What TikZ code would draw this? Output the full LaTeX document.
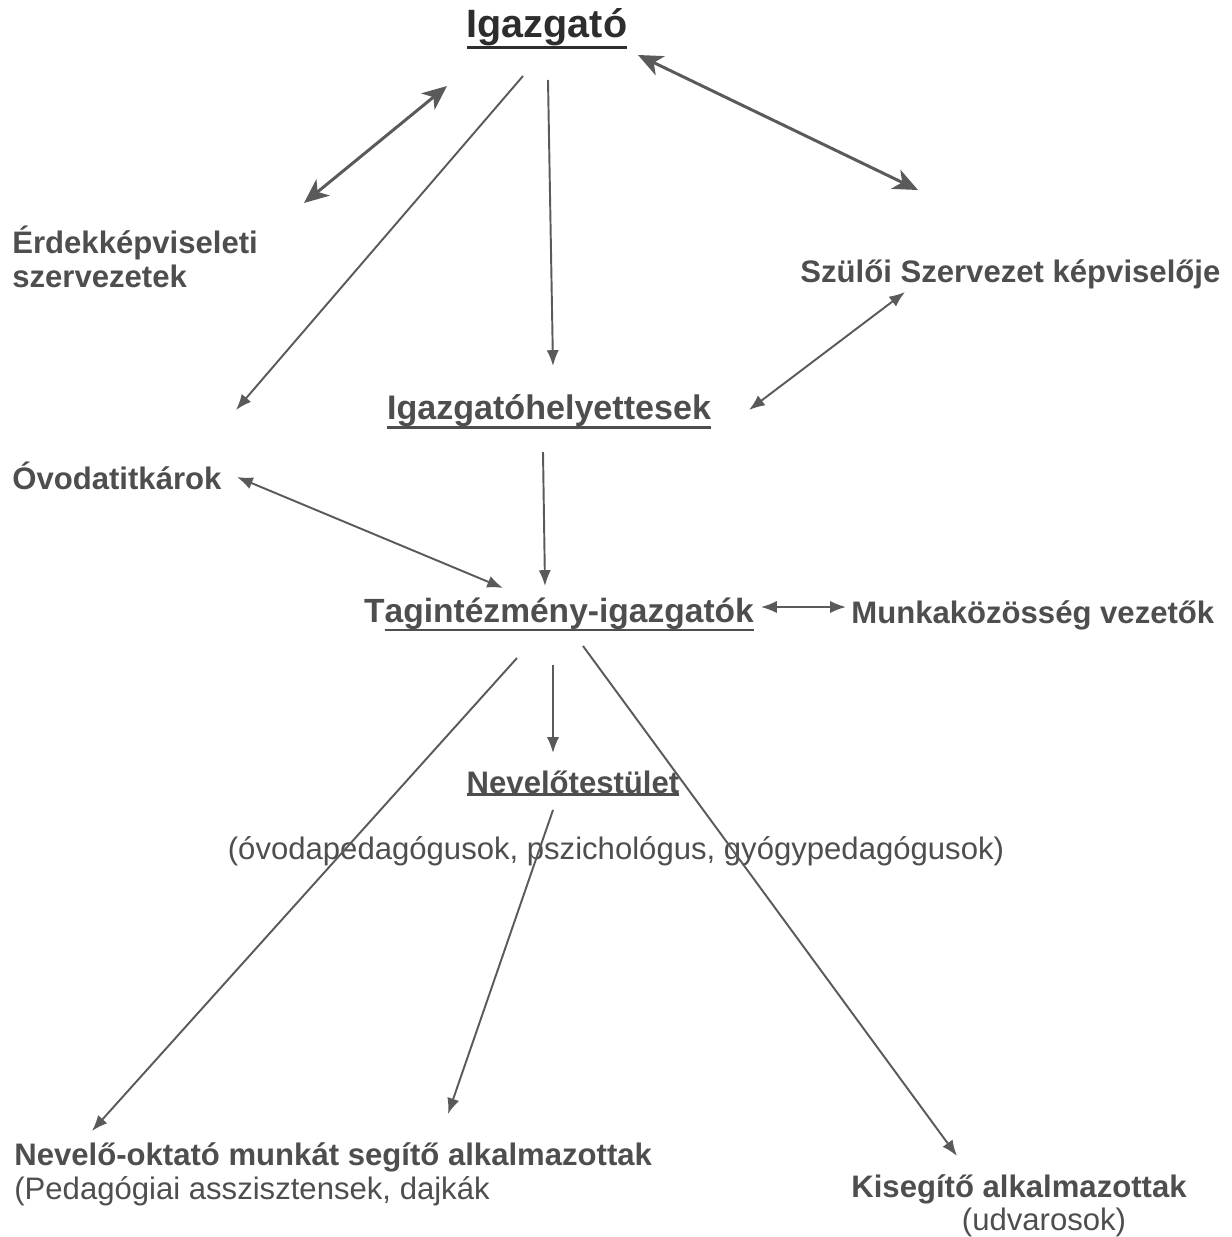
\documentclass[tikz,border=0pt]{standalone}
\usepackage{fontspec}
\setmainfont{Liberation Sans}
\usetikzlibrary{arrows.meta}
\definecolor{inkgray}{RGB}{78,78,78}
\definecolor{headgray}{RGB}{45,45,45}
\definecolor{linegray}{RGB}{90,90,90}
\newcommand\heavyul[1]{\setbox0=\hbox{#1}\rlap{\rule[-\dimexpr\dp0+1.3pt\relax]{\wd0}{1.5pt}}\box0}
\tikzset{
  lbl/.style={font=\fontsize{17.7}{19.3}\selectfont\bfseries, text=inkgray, inner sep=0pt},
  note/.style={font=\fontsize{17.7}{19.3}\selectfont, text=inkgray, inner sep=0pt},
  tip/.tip={Latex[length=9pt,width=7pt]},
  bigtip/.tip={Stealth[length=14pt,width=12pt,inset=4pt]},
  conn/.style={draw=linegray, line width=1.1pt, -tip},
  twoway/.style={draw=linegray, line width=1.1pt, tip-tip},
  heavy/.style={draw=linegray, line width=1.7pt, bigtip-bigtip}
}

\begin{document}
\begin{tikzpicture}[x=0.02cm, y=-0.02cm]
  \useasboundingbox (0,0) rectangle (1231,1237);

  % labels
  \node[lbl, text=headgray, font=\fontsize{22.5}{24}\selectfont\bfseries, anchor=base] (igazgato) at (547,38) {\heavyul{Igazgató}};
  \node[lbl, anchor=north west, align=left] (erdek) at (12,226) {Érdekképviseleti\\szervezetek};
  \node[lbl, anchor=base west] (szuloi) at (800,282) {Szülői Szervezet képviselője};
  \node[lbl, font=\fontsize{19.4}{21}\selectfont\bfseries, anchor=base] (helyettes) at (549,419) {\heavyul{Igazgatóhelyettesek}};
  \node[lbl, anchor=base west] (titkar) at (12,489) {Óvodatitkárok};
  \node[lbl, font=\fontsize{19.1}{21}\selectfont\bfseries, anchor=base] (tag) at (559,622) {T\heavyul{agintézmény-igazgatók}};
  \node[lbl, anchor=base west] (munka) at (851,623) {Munkaközösség vezetők};
  \node[lbl, anchor=base] (nevtest) at (573,793) {\heavyul{Nevelőtestület}};
  \node[note, anchor=base] (nevtest2) at (616,859) {(óvodapedagógusok, pszichológus, gyógypedagógusok)};
  \node[lbl, anchor=base west] (segito) at (14,1165) {Nevelő-oktató munkát segítő alkalmazottak};
  \node[note, anchor=base west] (segito2) at (14,1199) {(Pedagógiai asszisztensek, dajkák};
  \node[lbl, anchor=base] (kisegito) at (1019,1197) {Kisegítő alkalmazottak};
  \node[note, anchor=base] (kisegito2) at (1044,1230) {(udvarosok)};

  % connector ends
  \coordinate (a1) at (447,86);   \coordinate (a2) at (304,203);
  \coordinate (b1) at (523,76);   \coordinate (b2) at (236,410);
  \coordinate (c1) at (548,80);   \coordinate (c2) at (553,366);
  \coordinate (d1) at (638,55);   \coordinate (d2) at (918,190);
  \coordinate (e1) at (905,292);  \coordinate (e2) at (749,410);
  \coordinate (f1) at (237,477);  \coordinate (f2) at (503,588);
  \coordinate (g1) at (543,452);  \coordinate (g2) at (545,586);
  \coordinate (h1) at (761,607);  \coordinate (h2) at (846,607);
  \coordinate (i1) at (517,658);  \coordinate (i2) at (92,1131);
  \coordinate (j1) at (553,665);  \coordinate (j2) at (553,753);
  \coordinate (k1) at (583,646);  \coordinate (k2) at (957,1156);
  \coordinate (l1) at (553,810);  \coordinate (l2) at (448,1114);

  % connectors
  \draw[heavy] (a1) -- (a2);
  \draw[heavy] (d1) -- (d2);
  \draw[conn] (b1) -- (b2);
  \draw[conn] (c1) -- (c2);
  \draw[twoway] (e1) -- (e2);
  \draw[twoway] (f1) -- (f2);
  \draw[conn] (g1) -- (g2);
  \draw[twoway] (h1) -- (h2);
  \draw[conn] (i1) -- (i2);
  \draw[conn] (j1) -- (j2);
  \draw[conn] (k1) -- (k2);
  \draw[conn] (l1) -- (l2);
\end{tikzpicture}
\end{document}
